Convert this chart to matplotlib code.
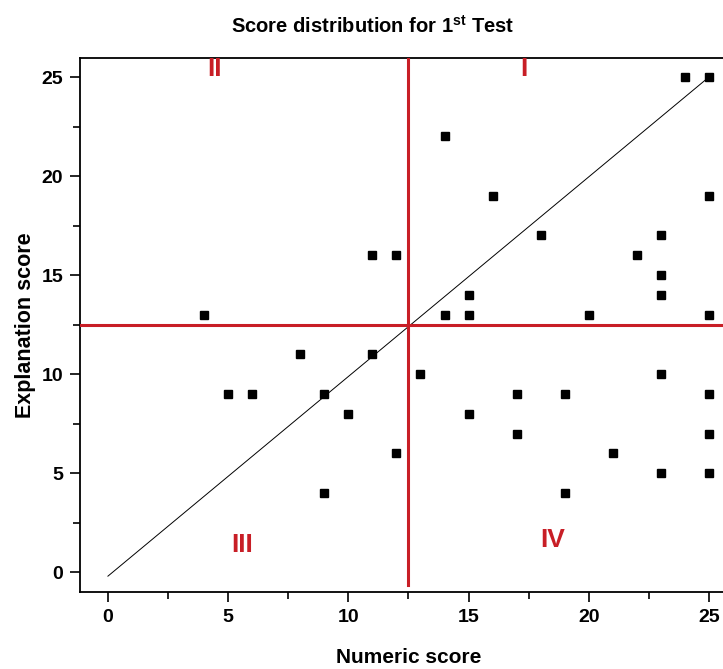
import matplotlib
matplotlib.use("Agg")
import matplotlib.pyplot as plt
from matplotlib.ticker import MultipleLocator

plt.rcParams['font.family'] = ['Liberation Sans', 'DejaVu Sans']
plt.rcParams['font.weight'] = 'bold'
plt.rcParams['mathtext.fontset'] = 'custom'
plt.rcParams['mathtext.rm'] = 'Liberation Sans:bold'
plt.rcParams['mathtext.bf'] = 'Liberation Sans:bold'

# scores (numeric, explanation)
numeric = [24, 25, 14, 16, 25, 18, 23, 22, 23, 15, 23, 14, 15, 20, 25, 4,
           11, 12, 8, 11, 13, 23, 5, 6, 9, 17, 19, 25, 10, 15, 17, 25,
           12, 21, 23, 25, 9, 19]
explanation = [25, 25, 22, 19, 19, 17, 17, 16, 15, 14, 14, 13, 13, 13, 13, 13,
               16, 16, 11, 11, 10, 10, 9, 9, 9, 9, 9, 9, 8, 8, 7, 7,
               6, 6, 5, 5, 4, 4]

diag_x = [0, 25]
diag_y = [-0.2, 25]
cut = 12.5

quad_labels = ['I', 'II', 'III', 'IV']
quad_x = [17.3, 4.45, 5.6, 18.5]
quad_y = [25.4, 25.4, 1.35, 1.6]

red = '#c81e26'

fig = plt.figure(figsize=(7.23, 6.69), dpi=100)
ax = fig.add_axes([0.1107, 0.1151, 0.9085, 0.7982])

ax.plot(diag_x, diag_y, color='black', lw=0.7, zorder=2)
ax.axhline(cut, color=red, lw=2.2, zorder=3)
ax.plot([cut, cut], [-0.65, 26], color=red, lw=2.2, zorder=3)
ax.plot(numeric, explanation, 's', color='black', markersize=6.3, zorder=4)

for lab, x, y in zip(quad_labels, quad_x, quad_y):
    ax.text(x, y, lab, color=red, fontsize=19, fontweight='bold',
            ha='center', va='center')

ax.set_xlim(-1.16, 26.16)
ax.set_ylim(-1.0, 25.96)
ax.xaxis.set_major_locator(MultipleLocator(5))
ax.xaxis.set_minor_locator(MultipleLocator(2.5))
ax.yaxis.set_major_locator(MultipleLocator(5))
ax.yaxis.set_minor_locator(MultipleLocator(2.5))
ax.tick_params(which='major', direction='out', length=7, width=1.2,
               labelsize=14, pad=5)
ax.tick_params(which='minor', direction='out', length=5, width=1.2)
for s in ax.spines.values():
    s.set_linewidth(1.3)

ax.set_xlabel('Numeric score', fontsize=15, fontweight='bold', labelpad=16)
ax.set_ylabel('Explanation score', fontsize=15.5, fontweight='bold', labelpad=4)
fig.text(0.515, 0.962, r'Score distribution for 1$^{\rm st}$ Test',
         fontsize=14.5, fontweight='bold', ha='center', va='center')

fig.savefig('out.png', dpi=100)
